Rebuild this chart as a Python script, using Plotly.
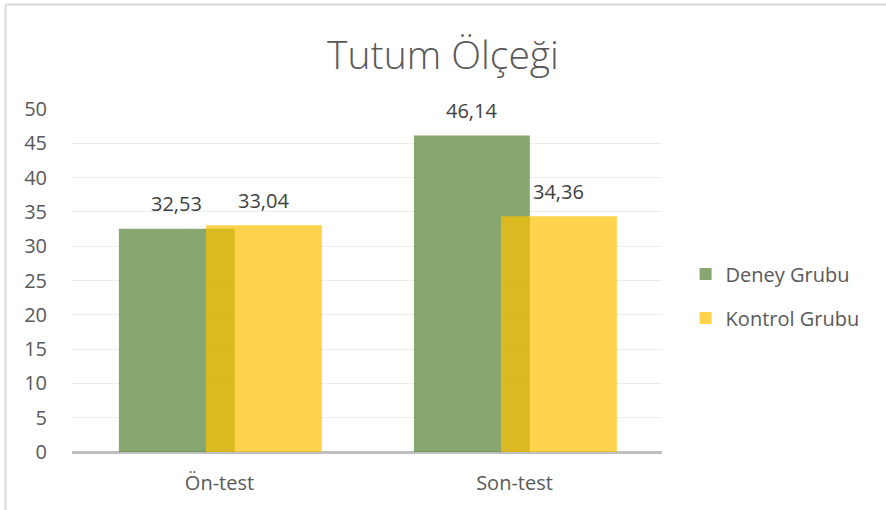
import plotly.graph_objects as go

CATEGORIES = ["Ön-test", "Son-test"]
DENEY = [32.53, 46.14]
KONTROL = [33.04, 34.36]
SERIES = ["Deney Grubu", "Kontrol Grubu"]
TITLE = "Tutum Ölçeği"

GREEN = "rgba(84,130,53,0.7)"
YELLOW = "rgba(255,192,0,0.7)"
TXT = "#595959"
LBL = "#404040"
FONT = "'Open Sans', Lato, sans-serif"

W, H = 886, 510
L, R, T, B = 72, 224, 109, 58
PW, PH = W - L - R, H - T - B

BAR_W = 0.393
OFFS = [-0.341, -0.046]


def fmt(v):
    return f"{v:.2f}".replace(".", ",")


xs = list(range(len(CATEGORIES)))
fig = go.Figure()
for name, vals, col, off in [(SERIES[0], DENEY, GREEN, OFFS[0]), (SERIES[1], KONTROL, YELLOW, OFFS[1])]:
    fig.add_bar(x=xs, y=vals, name=name, marker=dict(color=col, line=dict(width=0)),
                width=BAR_W, offset=off, legendgroup=name)
    for x, v in zip(xs, vals):
        fig.add_annotation(x=x + off + BAR_W / 2, y=v, text=fmt(v), showarrow=False,
                           yanchor="middle", yshift=25, font=dict(family=FONT, size=20, color=LBL))

# chart frame (top + left edges only, as in the source)
fig.add_shape(type="line", xref="paper", yref="paper", x0=(5.5 - L) / PW, x1=(W - L) / PW,
              y0=(H - B - 4.5) / PH, y1=(H - B - 4.5) / PH, line=dict(color="#d9d9d9", width=2))
fig.add_shape(type="line", xref="paper", yref="paper", x0=(5.5 - L) / PW, x1=(5.5 - L) / PW,
              y0=(H - B - 4.5) / PH, y1=-B / PH, line=dict(color="#d9d9d9", width=2))

fig.update_layout(
    width=W, height=H, barmode="overlay",
    margin=dict(l=L, r=R, t=T, b=B),
    paper_bgcolor="white", plot_bgcolor="white",
    font=dict(family=FONT, size=20, color=TXT),
    title=dict(text=TITLE, x=0.5, xref="container", xanchor="center", y=1 - 55 / H, yref="container",
               yanchor="middle", font=dict(family=FONT, size=39, color=TXT, weight=300)),
    legend=dict(x=1.04, y=0.455, xanchor="left", yanchor="middle", tracegroupgap=15,
                font=dict(family=FONT, size=20, color=TXT), itemsizing="constant"),
)
fig.update_xaxes(tickvals=xs, ticktext=CATEGORIES, range=[-0.5, len(CATEGORIES) - 0.5],
                 showgrid=False, zeroline=False, showline=False, ticks="", ticklabelstandoff=17)
fig.update_yaxes(range=[0, 50], dtick=5, showgrid=True, gridcolor="#ededed", gridwidth=1,
                 zeroline=True, zerolinecolor="#bfbfbf", zerolinewidth=3, showline=False,
                 ticks="", ticklabelstandoff=24)

# drop the browser's default 8px body margin so the figure sits at the window origin
fig.write_html("out.html", config={"displayModeBar": False},
               post_script="document.body.style.margin='0';")
